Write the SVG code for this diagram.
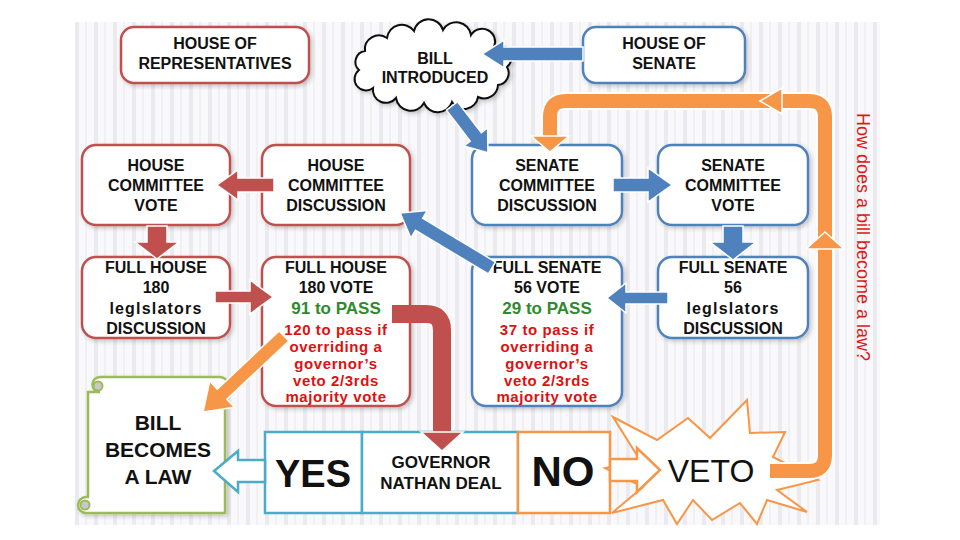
<svg xmlns="http://www.w3.org/2000/svg" width="960" height="540" viewBox="0 0 960 540">
<defs>
<pattern id="grid" x="75" y="0" width="19" height="540" patternUnits="userSpaceOnUse">
<rect width="19" height="540" fill="#f9f9fb"/>
<rect x="0" width="4" height="540" fill="#ebebef"/>
<rect x="10" width="2" height="540" fill="#f1f1f4"/>
</pattern>
<filter id="sh" x="-10%" y="-10%" width="130%" height="130%">
<feDropShadow dx="2" dy="2" stdDeviation="2" flood-color="#000" flood-opacity="0.22"/>
</filter>
<style>
.t{font-family:"Liberation Sans",Arial,sans-serif;font-weight:bold;font-size:16px;fill:#111;text-anchor:middle}
.g{fill:#2e8b2e;font-size:17px}
.r{fill:#e01010;font-size:15px;letter-spacing:0.6px}
.hb{fill:#fff;stroke:#c0504d;stroke-width:2.5}
.sb{fill:#fff;stroke:#4f81bd;stroke-width:2.5}
.ra{fill:#c0504d;stroke:#fff;stroke-width:1.5}
.ba{fill:#4f81bd;stroke:#fff;stroke-width:1.5}
.oa{fill:#f79646;stroke:#fff;stroke-width:1.5}
</style>
</defs>
<rect width="960" height="540" fill="#fff"/>
<rect x="75" y="22" width="805" height="503" fill="url(#grid)"/>

<g id="house-of-representatives">
<rect class="hb" x="121" y="27" width="188" height="56" rx="13" filter="url(#sh)"/>
<text class="t" x="215" y="49">HOUSE OF</text>
<text class="t" x="215" y="69">REPRESENTATIVES</text>
</g>

<g id="bill-introduced">
<path d="M 507 67 A 12 12 0 0 1 498 85 A 14 14 0 0 1 478 97 A 14 14 0 0 1 452 102 A 15 15 0 0 1 424 103 A 15 15 0 0 1 396 98 A 13 13 0 0 1 373 88 A 11 11 0 0 1 359 70 A 11 11 0 0 1 365 51 A 14 14 0 0 1 387 38 A 15 15 0 0 1 414 31 A 15 15 0 0 1 443 30 A 15 15 0 0 1 471 35 A 13 13 0 0 1 494 47 A 12 12 0 0 1 507 67 Z" fill="#fff" stroke="#111" stroke-width="2" filter="url(#sh)"/>
<text class="t" x="435" y="64">BILL</text>
<text class="t" x="435" y="83">INTRODUCED</text>
</g>

<g id="house-of-senate">
<rect class="sb" x="583" y="27" width="162" height="56" rx="13" filter="url(#sh)"/>
<text class="t" x="664" y="49">HOUSE OF</text>
<text class="t" x="664" y="69">SENATE</text>
</g>

<g id="house-committee-vote">
<rect class="hb" x="82" y="145" width="148" height="80" rx="14" filter="url(#sh)"/>
<text class="t" x="156" y="171">HOUSE</text>
<text class="t" x="156" y="191">COMMITTEE</text>
<text class="t" x="156" y="211">VOTE</text>
</g>

<g id="house-committee-discussion">
<rect class="hb" x="262" y="145" width="148" height="80" rx="14" filter="url(#sh)"/>
<text class="t" x="336" y="171">HOUSE</text>
<text class="t" x="336" y="191">COMMITTEE</text>
<text class="t" x="336" y="211">DISCUSSION</text>
</g>

<g id="senate-committee-discussion">
<rect class="sb" x="472" y="145" width="150" height="80" rx="14" filter="url(#sh)"/>
<text class="t" x="547" y="171">SENATE</text>
<text class="t" x="547" y="191">COMMITTEE</text>
<text class="t" x="547" y="211">DISCUSSION</text>
</g>

<g id="senate-committee-vote">
<rect class="sb" x="658" y="145" width="150" height="80" rx="14" filter="url(#sh)"/>
<text class="t" x="733" y="171">SENATE</text>
<text class="t" x="733" y="191">COMMITTEE</text>
<text class="t" x="733" y="211">VOTE</text>
</g>

<g id="full-house-discussion">
<rect class="hb" x="82" y="257" width="148" height="81" rx="14" filter="url(#sh)"/>
<text class="t" x="156" y="273">FULL HOUSE</text>
<text class="t" x="156" y="293">180</text>
<text class="t" x="156" y="314" style="letter-spacing:1.2px">leglslators</text>
<text class="t" x="156" y="334">DISCUSSION</text>
</g>

<g id="full-house-vote">
<rect class="hb" x="262" y="257" width="148" height="149" rx="14" filter="url(#sh)"/>
<text class="t" x="336" y="273">FULL HOUSE</text>
<text class="t" x="336" y="293">180 VOTE</text>
<text class="t g" x="336" y="314">91 to PASS</text>
<text class="t r" x="336" y="335">120 to pass if</text>
<text class="t r" x="336" y="352">overriding a</text>
<text class="t r" x="336" y="369">governor’s</text>
<text class="t r" x="336" y="386">veto 2/3rds</text>
<text class="t r" x="336" y="402">majority vote</text>
</g>

<g id="full-senate-vote">
<rect class="sb" x="472" y="257" width="150" height="149" rx="14" filter="url(#sh)"/>
<text class="t" x="547" y="273">FULL SENATE</text>
<text class="t" x="547" y="293">56 VOTE</text>
<text class="t g" x="547" y="314">29 to PASS</text>
<text class="t r" x="547" y="335">37 to pass if</text>
<text class="t r" x="547" y="352">overriding a</text>
<text class="t r" x="547" y="369">governor’s</text>
<text class="t r" x="547" y="386">veto 2/3rds</text>
<text class="t r" x="547" y="402">majority vote</text>
</g>

<g id="full-senate-discussion">
<rect class="sb" x="658" y="257" width="150" height="81" rx="14" filter="url(#sh)"/>
<text class="t" x="733" y="273">FULL SENATE</text>
<text class="t" x="733" y="293">56</text>
<text class="t" x="733" y="314" style="letter-spacing:1.2px">leglslators</text>
<text class="t" x="733" y="334">DISCUSSION</text>
</g>

<g id="bill-becomes-a-law">
<path d="M 100 377 H 220 A 7.5 7.5 0 0 1 220 392 H 225 V 513 H 86 A 8 8 0 0 1 86 497 H 88 V 392 H 100 A 7.5 7.5 0 0 1 100 377 Z" fill="#fff" stroke="#9bbb59" stroke-width="2.5" filter="url(#sh)"/>
<circle cx="98" cy="386" r="4.5" fill="#c8c8c8" stroke="#9bbb59" stroke-width="2"/>
<circle cx="85" cy="505" r="4.5" fill="#c8c8c8" stroke="#9bbb59" stroke-width="2"/>
<text class="t" x="158" y="430" style="font-size:21px">BILL</text>
<text class="t" x="158" y="457" style="font-size:21px">BECOMES</text>
<text class="t" x="158" y="484" style="font-size:21px">A LAW</text>
</g>

<g id="yes">
<rect x="265" y="432" width="97" height="81" fill="#fff" stroke="#4bacc6" stroke-width="2.5"/>
<text class="t" x="313" y="487" style="font-size:38px">YES</text>
</g>

<g id="governor">
<rect x="362" y="432" width="156" height="81" fill="#fff" stroke="#4bacc6" stroke-width="2.5"/>
<text class="t" x="441" y="468" style="font-size:17px">GOVERNOR</text>
<text class="t" x="441" y="489" style="font-size:17px">NATHAN DEAL</text>
</g>

<g id="no">
<rect x="518" y="432" width="92" height="81" fill="#fff" stroke="#f79646" stroke-width="2.5"/>
<text class="t" x="563" y="486" style="font-size:42px">NO</text>
</g>

<g id="veto">
<polygon points="613,417 657,440 688,418 710,438 747,400 750,433 785,432 773,457 818,480 777,490 807,512 767,500 757,524 740,503 712,520 693,500 677,524 663,500 612,513 643,487 605,468 640,460" fill="#fff" stroke="#f79646" stroke-width="2"/>
<text x="711" y="482" style="font-family:'Liberation Sans',Arial,sans-serif;font-size:32px;fill:#111;text-anchor:middle">VETO</text>
</g>

<g id="connectors">
<polygon class="ba" points="583,47 504,47 504,40 482,54 504,68 504,61 583,61"/>
<polygon class="ba" transform="translate(452,106) rotate(52.5)" points="0,-7 39,-7 39,-15 59,0 39,15 39,7 0,7"/>
<polygon class="ra" points="274,178 238,178 238,170 217,185 238,200 238,192 274,192"/>
<polygon class="ba" points="613,178 648,178 648,168 672,185 648,202 648,192 613,192"/>
<polygon class="ra" points="147,226 167,226 167,242 179,242 157,259 135,242 147,242"/>
<polygon class="ba" points="723,226 743,226 743,242 756,242 733,260 710,242 723,242"/>
<polygon class="ra" points="215,291 250,291 250,280 273,297 250,314 250,303 215,303"/>
<polygon class="ba" points="668,292 626,292 626,283 607,298 626,313 626,304 668,304"/>
<polygon class="ba" transform="translate(492,268) rotate(210.9)" points="0,-7 85,-7 85,-16 107,0 85,16 85,7 0,7"/>
<polygon class="oa" transform="translate(284,336) rotate(136.8)" points="0,-7 85,-7 85,-18 111,0 85,18 85,7 0,7"/>
<path d="M 392 314 H 426 Q 442 314 442 330 V 433" fill="none" stroke="#c0504d" stroke-width="18"/>
<polygon class="ra" points="421,432 463,432 442,451"/>
<polygon points="265,460 238,460 238,451 214,471 238,492 238,482 265,482" fill="#fff" stroke="#4bacc6" stroke-width="2.5"/>
<polygon points="610,459 637,459 637,448 660,470 637,492 637,481 610,481" fill="#fff" stroke="#f79646" stroke-width="2.5"/>
<path d="M 770 471 H 809 Q 825 471 825 455 V 117 Q 825 101 809 101 H 566 Q 550 101 550 117 V 137" fill="none" stroke="#fff" stroke-width="18"/>
<path d="M 770 471 H 809 Q 825 471 825 455 V 117 Q 825 101 809 101 H 566 Q 550 101 550 117 V 137" fill="none" stroke="#f79646" stroke-width="14"/>
<polygon class="oa" points="531,136 569,136 550,152"/>
<polygon class="oa" points="760,101 782,88 782,114"/>
<polygon class="oa" points="825,232 806,249 844,249"/>
</g>

<text transform="translate(857,113) rotate(90)" style="font-family:'Liberation Sans',Arial,sans-serif;font-size:18px;fill:#e01818">How does a bill become a law?</text>
</svg>
